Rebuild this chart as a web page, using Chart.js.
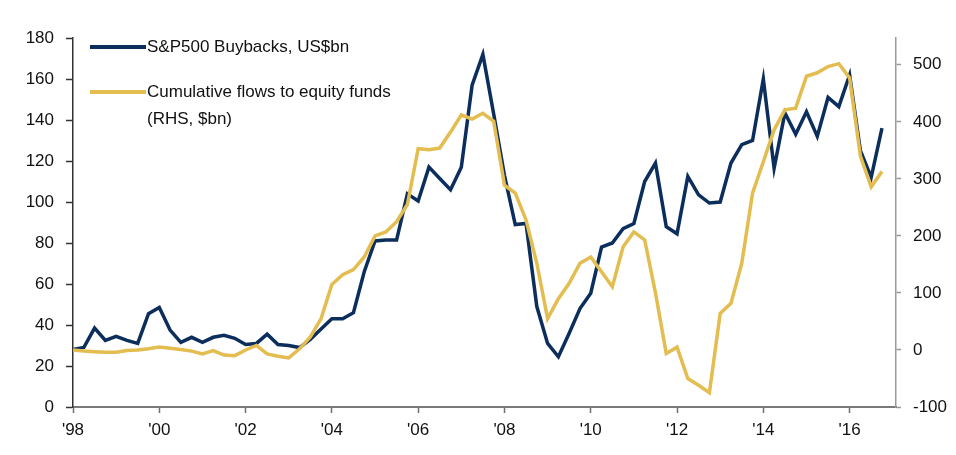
<!DOCTYPE html>
<html>
<head>
<meta charset="utf-8">
<script src="https://cdn.jsdelivr.net/npm/chart.js@4/dist/chart.umd.min.js"></script>
<style>
  html, body { margin: 0; padding: 0; background: #ffffff; }
  #c { display: block; }
</style>
</head>
<body>
<canvas id="c" width="956" height="455"></canvas>
<script>
// Quarterly categories, 1998Q1 .. 2016Q4
const quarters = [
  '1998Q1','1998Q2','1998Q3','1998Q4','1999Q1','1999Q2','1999Q3','1999Q4',
  '2000Q1','2000Q2','2000Q3','2000Q4','2001Q1','2001Q2','2001Q3','2001Q4',
  '2002Q1','2002Q2','2002Q3','2002Q4','2003Q1','2003Q2','2003Q3','2003Q4',
  '2004Q1','2004Q2','2004Q3','2004Q4','2005Q1','2005Q2','2005Q3','2005Q4',
  '2006Q1','2006Q2','2006Q3','2006Q4','2007Q1','2007Q2','2007Q3','2007Q4',
  '2008Q1','2008Q2','2008Q3','2008Q4','2009Q1','2009Q2','2009Q3','2009Q4',
  '2010Q1','2010Q2','2010Q3','2010Q4','2011Q1','2011Q2','2011Q3','2011Q4',
  '2012Q1','2012Q2','2012Q3','2012Q4','2013Q1','2013Q2','2013Q3','2013Q4',
  '2014Q1','2014Q2','2014Q3','2014Q4','2015Q1','2015Q2','2015Q3','2015Q4',
  '2016Q1','2016Q2','2016Q3','2016Q4'
];

// S&P500 Buybacks, US$bn (left axis)
const buybacks = [
  28, 29, 38.5, 32.5, 34.5, 32.5, 31, 45.5,
  48.5, 37.5, 31.5, 34, 31.5, 34, 35, 33.5,
  30.5, 31, 35.5, 30.5, 30, 29, 33, 38,
  43, 43, 46, 66, 81, 81.5, 81.5, 104,
  100.5, 117, 111.5, 106, 117, 157, 172, 143,
  113, 89, 89.5, 49, 31, 24.5, 36, 48,
  55.5, 78, 80, 87, 89.5, 110, 119, 88,
  84.5, 112.5, 103.5, 99.5, 100, 119, 128, 130,
  160, 116.5, 143.5, 133, 144, 132, 151, 146.5,
  162, 125, 112, 136
];

// Cumulative flows to equity funds, $bn (right axis)
const flows = [
  0, -2, -3, -4, -4, -1, 0, 2,
  5, 3, 1, -2, -7, -1, -9, -10,
  0, 8, -7, -11, -14, 2, 23, 55,
  115, 132, 141, 163, 200, 207, 225, 255,
  353, 351, 354, 382, 412, 405, 415, 401,
  289, 275, 228, 152, 55, 90, 117, 152,
  163, 137, 111, 181, 207, 193, 100, -6,
  5, -50, -62, -75, 64, 82, 152, 275,
  330, 386, 421, 424, 480, 486, 497, 502,
  477, 340, 286, 313
];

// Axis tick labels
const xTickLabels = ["'98", "'00", "'02", "'04", "'06", "'08", "'10", "'12", "'14", "'16"];
const xTickQuarterIdx = [0, 8, 16, 24, 32, 40, 48, 56, 64, 72];
const leftTicks = [0, 20, 40, 60, 80, 100, 120, 140, 160, 180];
const rightTicks = [-100, 0, 100, 200, 300, 400, 500];

const seriesNames = ['S&P500 Buybacks, US$bn', ['Cumulative flows to equity funds', '(RHS, $bn)']];
const NAVY = '#0b2e5c';
const GOLD = '#e3bd4f';
const FONT = '"Liberation Sans", Arial, sans-serif';

const legendPlugin = {
  id: 'customLegend',
  afterDraw(chart) {
    const ctx = chart.ctx;
    const items = [
      { color: NAVY, lines: [seriesNames[0]], y: 47 },
      { color: GOLD, lines: seriesNames[1], y: 92 }
    ];
    ctx.save();
    items.forEach(it => {
      ctx.strokeStyle = it.color;
      ctx.lineWidth = 4;
      ctx.lineCap = 'butt';
      ctx.beginPath();
      ctx.moveTo(90, it.y);
      ctx.lineTo(146, it.y);
      ctx.stroke();
      ctx.fillStyle = '#111';
      ctx.font = '17px ' + FONT;
      ctx.textBaseline = 'middle';
      ctx.textAlign = 'left';
      it.lines.forEach((t, k) => ctx.fillText(t, 147, it.y + k * 27));
    });
    ctx.restore();
  }
};

const ctx = document.getElementById('c').getContext('2d');
new Chart(ctx, {
  type: 'line',
  data: {
    datasets: [
      {
        label: 'S&P500 Buybacks, US$bn',
        data: buybacks.map((v, i) => ({ x: i, y: v })),
        borderColor: NAVY,
        backgroundColor: NAVY,
        borderWidth: 3.5,
        pointRadius: 0,
        tension: 0,
        yAxisID: 'y',
        order: 1
      },
      {
        label: 'Cumulative flows to equity funds (RHS, $bn)',
        data: flows.map((v, i) => ({ x: i, y: v })),
        borderColor: GOLD,
        backgroundColor: GOLD,
        borderWidth: 3.5,
        pointRadius: 0,
        tension: 0,
        yAxisID: 'y1',
        order: 0
      }
    ]
  },
  options: {
    responsive: false,
    devicePixelRatio: 1,
    animation: false,
    layout: { padding: { top: 38, right: 0, bottom: 0, left: 0 } },
    plugins: {
      legend: { display: false },
      tooltip: { enabled: false }
    },
    scales: {
      x: {
        type: 'linear',
        position: 'bottom',
        min: 0,
        max: 76.3,
        afterBuildTicks: s => { s.ticks = xTickQuarterIdx.map(v => ({ value: v })); },
        afterFit: s => { s.height = 48; },
        grid: { drawOnChartArea: false, drawTicks: true, tickLength: 6, tickColor: '#6f6f6f', tickWidth: 1.5 },
        border: { display: true, color: '#7a7a7a', width: 2 },
        ticks: {
          autoSkip: false,
          maxRotation: 0,
          padding: 7,
          color: '#111',
          font: { family: FONT, size: 17 },
          callback: (v) => {
            const k = xTickQuarterIdx.indexOf(v);
            return k >= 0 ? xTickLabels[k] : '';
          }
        }
      },
      y: {
        position: 'left',
        min: 0,
        max: 180,
        afterBuildTicks: s => { s.ticks = leftTicks.map(v => ({ value: v })); },
        afterFit: s => { s.width = 73; },
        grid: { drawOnChartArea: false, drawTicks: true, tickLength: 7, tickColor: '#333', tickWidth: 1.5 },
        border: { display: true, color: '#333', width: 1.5 },
        ticks: {
          padding: 12,
          color: '#111',
          font: { family: FONT, size: 17 }
        }
      },
      y1: {
        position: 'right',
        min: -100,
        max: 547,
        afterBuildTicks: s => { s.ticks = rightTicks.map(v => ({ value: v })); },
        afterFit: s => { s.width = 60; },
        grid: { drawOnChartArea: false, drawTicks: true, tickLength: 5, tickColor: '#999', tickWidth: 1.5 },
        border: { display: true, color: '#9a9a9a', width: 1.5 },
        ticks: {
          padding: 12,
          color: '#111',
          font: { family: FONT, size: 17 }
        }
      }
    }
  },
  plugins: [legendPlugin]
});
</script>
</body>
</html>
